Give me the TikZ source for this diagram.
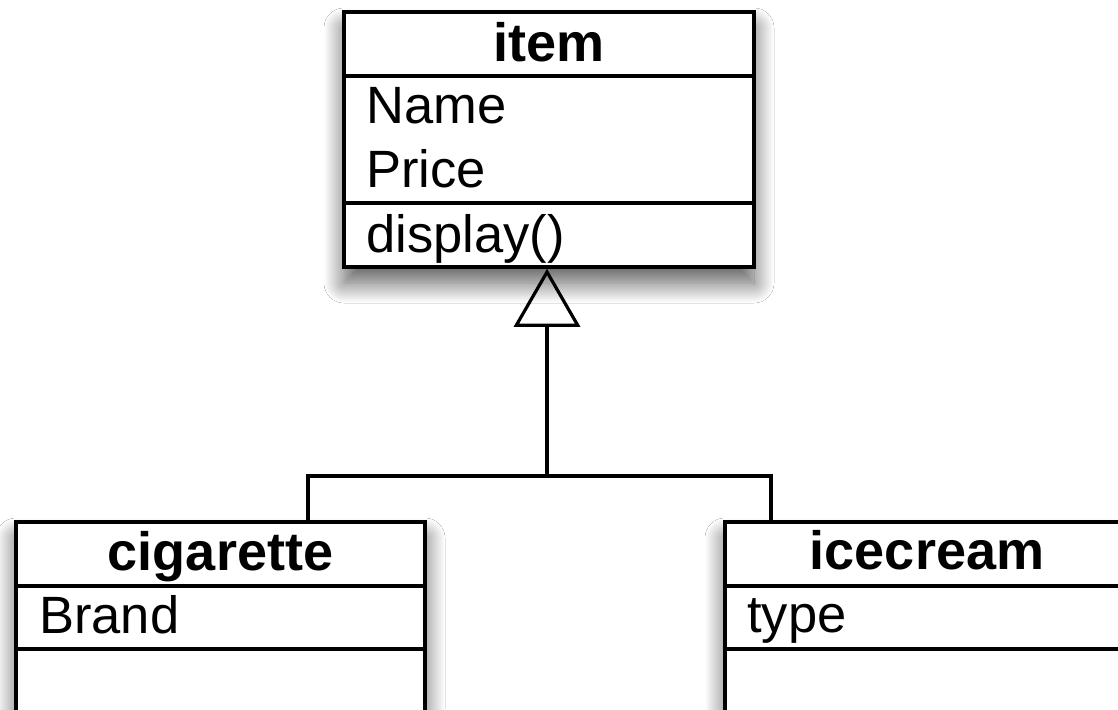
\documentclass[tikz,border=0pt]{standalone}
\usepackage{fontspec}
\setmainfont{Liberation Sans}
\usetikzlibrary{arrows.meta,shadows.blur}
\begin{document}
\begin{tikzpicture}[x=1pt,y=-1pt,
  classbox/.style={draw=black, line width=3.5pt, fill=white, rectangle, inner sep=0pt,
    blur shadow={shadow xshift=0pt, shadow yshift=-16pt, shadow blur radius=20pt, shadow blur steps=30, shadow opacity=65}},
  sepline/.style={line width=3.5pt},
  conn/.style={line width=3.2pt},
  title/.style={anchor=base, font=\fontsize{54}{60}\selectfont\bfseries, inner sep=0pt},
  attr/.style={anchor=base west, font=\fontsize{52.5}{60}\selectfont, inner sep=0pt},
  gen/.style={-{Triangle[open, length=58pt, width=66pt, line width=3.2pt]}, line width=3.2pt}
]
\useasboundingbox (0,0) rectangle (1118,709);
\fill[white] (0,0) rectangle (1118,709);

% item
\node[classbox, minimum width=410pt, minimum height=255pt] (item) at (549,139.5) {};
\draw[sepline] (item.west |- 0,76) -- (item.east |- 0,76);
\draw[sepline] (item.west |- 0,203) -- (item.east |- 0,203);
\node[title] (itemt) at (549,61) {item};
\node[attr] (name) at (366,123) {Name};
\node[attr] (price) at (366,187) {Price};
\node[attr] (disp) at (366,252) {display()};

% cigarette
\node[classbox, minimum width=409pt, minimum height=260pt] (cig) at (220.5,652) {};
\draw[sepline] (cig.west |- 0,586) -- (cig.east |- 0,586);
\draw[sepline] (cig.west |- 0,649) -- (cig.east |- 0,649);
\node[title] (cigt) at (220.5,570) {cigarette};
\node[attr] (brand) at (39,633) {Brand};

% icecream
\node[classbox, minimum width=409pt, minimum height=260pt] (ice) at (929.5,652) {};
\draw[sepline] (ice.west |- 0,586) -- (ice.east |- 0,586);
\draw[sepline] (ice.west |- 0,649) -- (ice.east |- 0,649);
\node[title] (icet) at (927,569) {icecream};
\node[attr] (typ) at (747,632) {type};

% connectors
\coordinate (cl) at (308,476);
\coordinate (cr) at (771,476);
\coordinate (split) at (547,476);
\draw[gen] (split) -- (split |- item.south);
\draw[conn, line join=miter] (cig.north -| cl) -- (cl) -- (cr) -- (ice.north -| cr);
\end{tikzpicture}
\end{document}
